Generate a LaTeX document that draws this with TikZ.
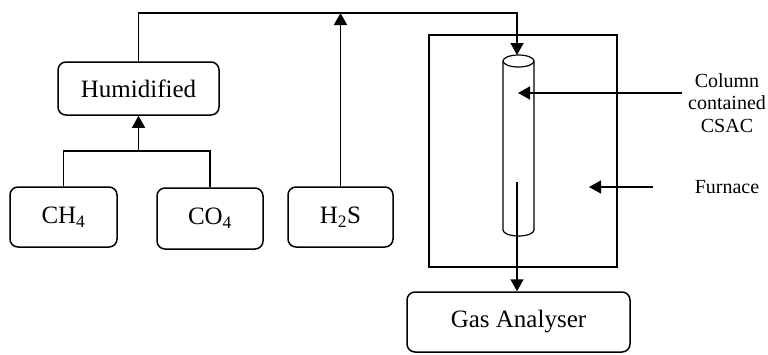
\documentclass[tikz,border=0pt]{standalone}
\usepackage{fontspec}
\setmainfont{Liberation Serif}
\usetikzlibrary{arrows.meta}
\begin{document}
\begin{tikzpicture}[x=1pt,y=-1pt,
  box/.style={draw,rounded corners=8pt,line width=1.5pt,inner sep=0pt,font=\fontsize{25}{29}\selectfont},
  conn/.style={line width=1.5pt},
  arr/.style={line width=1.5pt,-{Triangle[length=12pt,width=13pt]}},
  thin/.style={line width=1.2pt},
  lbl/.style={font=\fontsize{20}{22.5}\selectfont,align=center,inner sep=0pt}]
\useasboundingbox (0,0) rectangle (768,354);
% boxes
\node[box,minimum width=161pt,minimum height=53pt] (hum) at (138.5,88.5) {Humidified};
\node[box,minimum width=107pt,minimum height=60pt] (ch4) at (63.5,217) {CH\textsubscript{4}};
\node[box,minimum width=106pt,minimum height=61pt] (co4) at (210,218.5) {CO\textsubscript{4}};
\node[box,minimum width=105pt,minimum height=60pt] (h2s) at (340.5,217) {H\textsubscript{2}S};
\node[box,minimum width=223pt,minimum height=60pt] (ga) at (518.5,322) {Gas Analyser};
% furnace
\node[draw,thin,minimum width=188pt,minimum height=232pt,inner sep=0pt] (fur) at (523,151) {};
% cylinder
\coordinate (cyltop) at (517,55);
\draw[thin,fill=white] (503,61) -- (503,230) arc[start angle=180,end angle=360,x radius=15.5pt,y radius=6pt] -- (534,61);
\draw[thin,fill=white] (518.5,61) ellipse[x radius=15.5pt,y radius=6pt];
% connectors
\coordinate (tr) at (517,13);
\draw[arr] (hum.north) |- (tr) -- (cyltop);
\draw[arr] (h2s.north) -- (h2s.north |- tr);
\coordinate (j) at (138.5,151);
\draw[conn] (ch4.north) |- (j) -| (co4.north);
\draw[arr] (j) -- (hum.south);
\coordinate (cin) at (517,182);
\draw[arr] (cin) -- (cin |- ga.north);
% labels
\node[lbl] (col) at (727,103) {Column\\contained\\CSAC};
\coordinate (colL) at (682,93);
\coordinate (colT) at (518,93);
\draw[arr] (colL) -- (colT);
\node[lbl] (furl) at (727,187) {Furnace};
\coordinate (furA) at (653,187);
\coordinate (furT) at (589,187);
\draw[arr] (furA) -- (furT);
\end{tikzpicture}
\end{document}
